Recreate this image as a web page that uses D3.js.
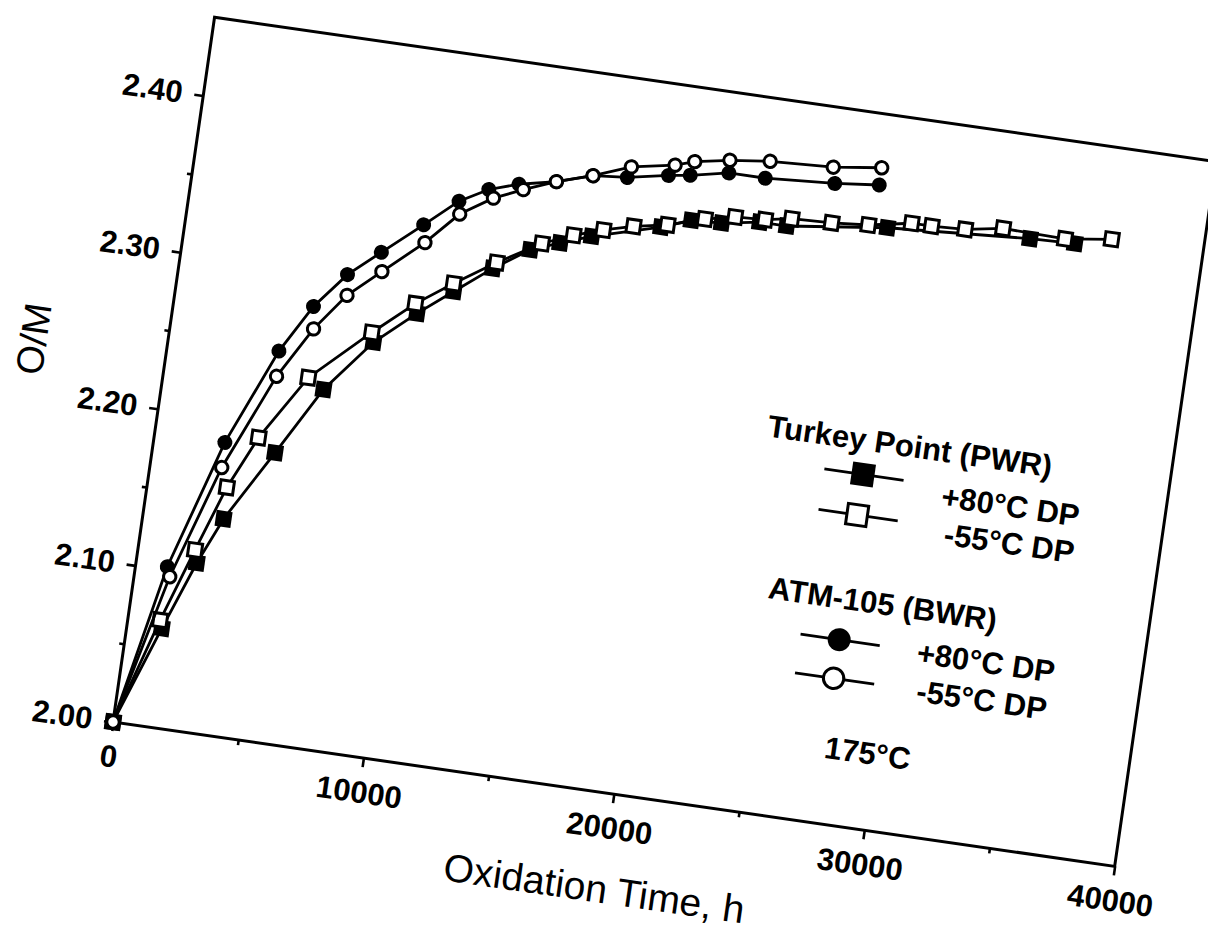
<!DOCTYPE html>
<html>
<head>
<meta charset="utf-8">
<script src="https://cdn.jsdelivr.net/npm/d3@7"></script>
<style>
  body { margin: 0; background: #fff; }
  svg text { font-family: 'Liberation Sans', Arial, Helvetica, sans-serif; fill: #000; }
</style>
</head>
<body>
<div id="chart"></div>
<script>
// Turkey Point (PWR), +80C dew point  (filled squares)
const pwrWetHours = [0, 1380, 2380, 3180, 4820, 6360, 8050, 9590, 10900, 12300, 13660, 14790, 15990, 18650, 19800, 21000, 22490, 23560, 27510, 33150, 34930];
const pwrWetOM    = [2.000, 2.063, 2.107, 2.137, 2.183, 2.227, 2.261, 2.283, 2.300, 2.318, 2.333, 2.340, 2.347, 2.359, 2.366, 2.367, 2.371, 2.371, 2.379, 2.385, 2.386];

// Turkey Point (PWR), -55C dew point  (open squares)
const pwrDryHours = [0, 1270, 2240, 3130, 4090, 5700, 7930, 9470, 10850, 12420, 14080, 15270, 16410, 17570, 18890, 20320, 21490, 22680, 23710, 25300, 26750, 28430, 29230, 30560, 32040, 34520, 36350];
const pwrDryOM    = [2.000, 2.068, 2.115, 2.157, 2.191, 2.233, 2.267, 2.289, 2.305, 2.322, 2.338, 2.346, 2.352, 2.357, 2.361, 2.368, 2.372, 2.373, 2.376, 2.377, 2.379, 2.384, 2.384, 2.385, 2.389, 2.388, 2.392];

// ATM-105 (BWR), +80C dew point  (filled circles)
const bwrWetHours = [0, 1250, 2800, 4400, 5500, 6650, 7850, 9350, 10600, 11700, 12850, 14300, 15700, 17050, 18650, 19500, 21000, 22450, 25200, 26950];
const bwrWetOM    = [2.000, 2.102, 2.185, 2.247, 2.278, 2.301, 2.318, 2.339, 2.357, 2.367, 2.373, 2.378, 2.385, 2.387, 2.392, 2.394, 2.399, 2.399, 2.402, 2.405];

// ATM-105 (BWR), -55C dew point  (open circles)
const bwrDryHours = [0, 1400, 2820, 4450, 5630, 6750, 7980, 9500, 10700, 11930, 13050, 14300, 15700, 17150, 18850, 19600, 20970, 22550, 25050, 26950];
const bwrDryOM    = [2.000, 2.096, 2.169, 2.231, 2.264, 2.288, 2.306, 2.328, 2.349, 2.362, 2.370, 2.378, 2.385, 2.394, 2.399, 2.403, 2.407, 2.410, 2.412, 2.416];

const xMajorTicks = [0, 10000, 20000, 30000, 40000];
const xMinorTicks = [5000, 15000, 25000, 35000];
const yMajorTicks = [2.00, 2.10, 2.20, 2.30, 2.40];
const yMinorTicks = [2.05, 2.15, 2.25, 2.35];

const legendGroups = ['Turkey Point (PWR)', 'ATM-105 (BWR)'];
const legendLabels = ['+80\u00B0C DP', '-55\u00B0C DP'];
const tempNote = '175\u00B0C';

const width = 1208, height = 930;
const plotW = 1012, plotH = 712;
const tilt = 8.2;   // the scanned page is turned a little clockwise

const svg = d3.select('#chart').append('svg')
  .attr('width', width)
  .attr('height', height)

svg.append('rect').attr('width', width).attr('height', height).attr('fill', '#fff')

const g = svg.append('g')
  .attr('transform', 'translate(113,722) rotate(' + tilt + ') translate(0,' + (-plotH) + ')')

const x = d3.scaleLinear().domain([0, 40000]).range([0, plotW])
const y = d3.scaleLinear().domain([2.00, 2.45]).range([plotH, 0])

//---------------  axes

const axisStyle = sel => {
  sel.select('.domain').remove()
  sel.selectAll('line').attr('stroke', '#000').attr('stroke-width', 2.6)
  sel.selectAll('text').attr('font-size', 31).attr('font-weight', 'bold')
}

g.append('g')
  .attr('transform', 'translate(0,' + plotH + ')')
  .call(d3.axisBottom(x).tickValues(xMajorTicks).tickSize(9).tickPadding(14).tickFormat(d3.format('d')))
  .call(axisStyle)

g.append('g')
  .attr('transform', 'translate(0,' + plotH + ')')
  .call(d3.axisBottom(x).tickValues(xMinorTicks).tickSize(5).tickFormat(''))
  .call(axisStyle)

g.append('g')
  .call(d3.axisLeft(y).tickValues(yMajorTicks).tickSize(9).tickPadding(12).tickFormat(d3.format('.2f')))
  .call(axisStyle)

g.append('g')
  .call(d3.axisLeft(y).tickValues(yMinorTicks).tickSize(5).tickFormat(''))
  .call(axisStyle)

g.append('rect')
  .attr('width', plotW)
  .attr('height', plotH)
  .attr('fill', 'none')
  .attr('stroke', '#000')
  .attr('stroke-width', 3)

g.append('text')
  .attr('x', 500)
  .attr('y', plotH + 96)
  .attr('text-anchor', 'middle')
  .attr('dominant-baseline', 'central')
  .attr('font-size', 39)
  .text('Oxidation Time, h')

g.append('text')
  .attr('transform', 'translate(-133,344) rotate(-90)')
  .attr('text-anchor', 'middle')
  .attr('dominant-baseline', 'central')
  .attr('font-size', 38)
  .text('O/M')

//---------------  series

const series = [
  { hours: pwrWetHours, om: pwrWetOM, shape: 'square', filled: true },
  { hours: pwrDryHours, om: pwrDryOM, shape: 'square', filled: false },
  { hours: bwrWetHours, om: bwrWetOM, shape: 'circle', filled: true },
  { hours: bwrDryHours, om: bwrDryOM, shape: 'circle', filled: false }
]

const line = d3.line()
  .x(d => x(d[0]))
  .y(d => y(d[1]))

const drawMarker = (sel, shape, filled, size) => {
  if (shape === 'square') {
    let s = filled ? size : size - 2.5
    sel.append('rect')
      .attr('x', -s / 2).attr('y', -s / 2)
      .attr('width', s).attr('height', s)
      .attr('fill', filled ? '#000' : '#fff')
      .attr('stroke', '#000')
      .attr('stroke-width', filled ? 0 : 3)
  } else {
    let r = filled ? size / 2 : size / 2 - 1.3
    sel.append('circle')
      .attr('r', r)
      .attr('fill', filled ? '#000' : '#fff')
      .attr('stroke', '#000')
      .attr('stroke-width', filled ? 0 : 3)
  }
}

series.forEach(s => {
  const pts = s.hours.map((h, i) => [h, s.om[i]])

  g.append('path')
    .datum(pts)
    .attr('d', line)
    .attr('fill', 'none')
    .attr('stroke', '#000')
    .attr('stroke-width', 2.8)

  g.append('g').selectAll('g')
    .data(pts)
    .enter()
    .append('g')
    .attr('transform', d => 'translate(' + x(d[0]) + ',' + y(d[1]) + ')')
    .each(function () { drawMarker(d3.select(this), s.shape, s.filled, s.shape === 'square' ? 16 : 15) })
})

//---------------  legend

const legend = g.append('g')

const legendBlocks = [
  { title: legendGroups[0], tx: 606, ty: 336, shape: 'square', rows: [360, 401], labelY: [381, 418], labelX: [788, 796] },
  { title: legendGroups[1], tx: 630, ty: 496, shape: 'circle', rows: [527, 566], labelY: [539, 577], labelX: [786, 791] }
]

legendBlocks.forEach(b => {
  legend.append('text')
    .attr('x', b.tx).attr('y', b.ty)
    .attr('font-size', 31).attr('font-weight', 'bold')
    .text(b.title)

  b.rows.forEach((ry, i) => {
    legend.append('line')
      .attr('x1', 668).attr('x2', 748)
      .attr('y1', ry).attr('y2', ry)
      .attr('stroke', '#000').attr('stroke-width', 2.8)

    drawMarker(legend.append('g').attr('transform', 'translate(707,' + ry + ')'), b.shape, i === 0, 23)

    legend.append('text')
      .attr('x', b.labelX[i]).attr('y', b.labelY[i])
      .attr('font-size', 31).attr('font-weight', 'bold')
      .text(legendLabels[i])
  })
})

legend.append('text')
  .attr('x', 708).attr('y', 646)
  .attr('font-size', 31).attr('font-weight', 'bold')
  .text(tempNote)
</script>
</body>
</html>
